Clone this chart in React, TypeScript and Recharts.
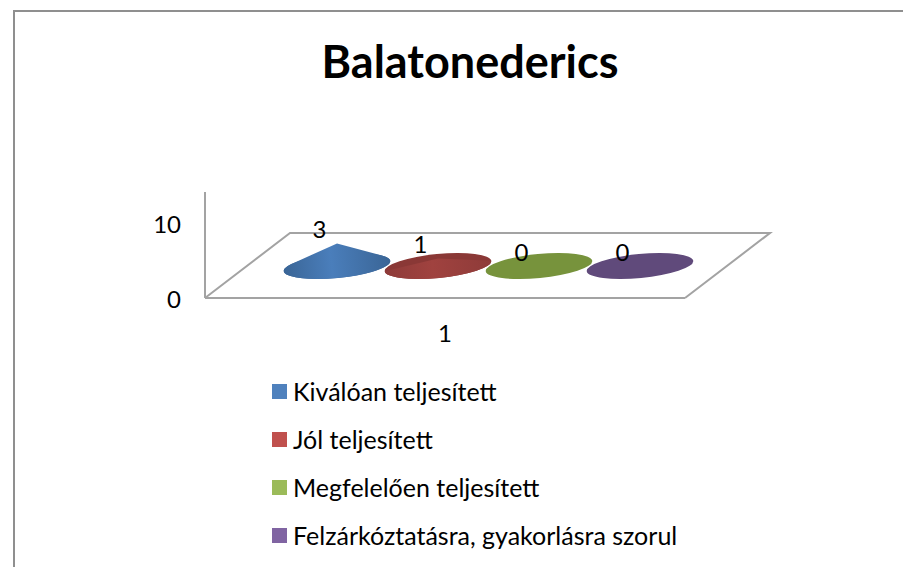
import React from "react";
import { BarChart, Bar, XAxis, YAxis, Legend, LabelList } from "recharts";

const categories = ["1"];
const seriesNames = [
  "Kiválóan teljesített",
  "Jól teljesített",
  "Megfelelően teljesített",
  "Felzárkóztatásra, gyakorlásra szorul",
];
const seriesValues = [[3], [1], [0], [0]];
const yTicks = [0, 10];
const yMax = 14.13;
const legendColors = ["#4f81bd", "#c0504d", "#9bbb59", "#8064a2"];
const baseColors = ["#3c6699", "#8a3836", "#77933c", "#604a7b"];
const midColors = ["#4a7ebb", "#a0423f", "#77933c", "#604a7b"];
const edgeColors = ["#3a6596", "#8e3b39", "#77933c", "#604a7b"];

const data = categories.map((c, i) => {
  const row: Record<string, string | number> = { category: c };
  seriesNames.forEach((n, s) => {
    row[n] = seriesValues[s][i];
  });
  return row;
});

const FONT = "Lato, Carlito, sans-serif";
const GRID = "#a3a3a3";
const DEPTH_X = 85;
const DEPTH_Y = 65;
const CONE_SHIFT = 1;
const PLOT = { left: 205, right: 685, top: 192, bottom: 298 };

function makeCone(index: number) {
  return function Cone(props: any) {
    const { x, y, width, height } = props;
    const cx = x + width / 2 + DEPTH_X / 2 + CONE_SHIFT;
    const cy = y + height - DEPTH_Y / 2 + 0.5;
    const rx = 53.5;
    const ry = 12;
    const theta = -5.5;
    const h = height;
    const t = (theta * Math.PI) / 180;
    const px = -h * Math.sin(t);
    const py = -h * Math.cos(t);
    const ux = px / rx;
    const uy = py / ry;
    const d = Math.hypot(ux, uy);
    const id = `cone-${index}`;
    let surface: string | null = null;
    if (h > 0) {
      if (d > 1) {
        const phi = Math.atan2(uy, ux);
        const a = Math.acos(1 / d);
        const t1 = [rx * Math.cos(phi + a), ry * Math.sin(phi + a)];
        const t2 = [rx * Math.cos(phi - a), ry * Math.sin(phi - a)];
        surface = `M${t1[0]} ${t1[1]} L${px} ${py} L${t2[0]} ${t2[1]} A${rx} ${ry} 0 1 0 ${t1[0]} ${t1[1]} Z`;
      } else {
        surface = `M${-rx} 0 L${px} ${py} L${rx} 0 A${rx} ${ry} 0 0 1 ${-rx} 0 Z`;
      }
    }
    return (
      <g transform={`translate(${cx} ${cy}) rotate(${theta})`}>
        <defs>
          <linearGradient id={id} x1="0" y1="0" x2="1" y2="0">
            <stop offset="0%" stopColor={edgeColors[index]} />
            <stop offset="45%" stopColor={midColors[index]} />
            <stop offset="100%" stopColor={edgeColors[index]} />
          </linearGradient>
        </defs>
        <ellipse cx={0} cy={0} rx={rx} ry={ry} fill={baseColors[index]} />
        {surface && <path d={surface} fill={`url(#${id})`} />}
      </g>
    );
  };
}

function coneLabel(props: any) {
  const { x, y, width, height, value } = props;
  const cx = x + width / 2 + DEPTH_X / 2 + CONE_SHIFT;
  const apexY = y + height - DEPTH_Y / 2 - height;
  return (
    <text
      x={cx - 17.6}
      y={apexY - 14}
      textAnchor="middle"
      dominantBaseline="central"
      fontFamily={FONT}
      fontSize={24}
      fill="#000"
    >
      {value}
    </text>
  );
}

function renderLegend(props: any) {
  const items = props.payload || [];
  return (
    <div style={{ fontFamily: FONT, fontSize: 25, color: "#000" }}>
      {items.map((item: any, i: number) => (
        <div
          key={item.value}
          style={{ display: "flex", alignItems: "center", height: 48, whiteSpace: "nowrap" }}
        >
          <span
            style={{
              display: "inline-block",
              width: 15,
              height: 15,
              background: legendColors[i],
              marginRight: 6,
            }}
          />
          <span>{item.value}</span>
        </div>
      ))}
    </div>
  );
}

export default function App() {
  return (
    <div style={{ position: "absolute", left: 0, top: 0, width: 903, height: 567, background: "#fff", overflow: "hidden" }}>
      <BarChart
        width={903}
        height={567}
        data={data}
        margin={{ top: PLOT.top, right: 903 - PLOT.right, bottom: 0, left: 0 }}
        barCategoryGap={38}
        barGap={0}
      >
        <path d="M14 567 L14 11 L903 11" fill="none" stroke="#8f8f8f" strokeWidth={2} />
        <text x={470} y={61} textAnchor="middle" dominantBaseline="central" fontFamily={FONT} fontWeight={700} fontSize={45} fill="#000">
          Balatonederics
        </text>
        <path
          d={`M${PLOT.left} ${PLOT.bottom} L${PLOT.left + DEPTH_X} ${PLOT.bottom - DEPTH_Y} L${PLOT.right + DEPTH_X} ${PLOT.bottom - DEPTH_Y} L${PLOT.right} ${PLOT.bottom}`}
          fill="none"
          stroke={GRID}
          strokeWidth={2}
        />
        <XAxis
          dataKey="category"
          height={567 - PLOT.bottom}
          axisLine={{ stroke: GRID, strokeWidth: 2 }}
          tickLine={false}
          tickMargin={21}
          tick={{ fontFamily: FONT, fontSize: 24, fill: "#000" }}
        />
        <YAxis
          width={PLOT.left}
          domain={[0, yMax]}
          ticks={yTicks}
          axisLine={{ stroke: GRID, strokeWidth: 2 }}
          tickLine={false}
          tickMargin={18}
          tick={{ fontFamily: FONT, fontSize: 24, fill: "#000", dy: 1 }}
        />
        {seriesNames.map((name, i) => (
          <Bar key={name} dataKey={name} name={name} fill={legendColors[i]} isAnimationActive={false} shape={makeCone(i)}>
            <LabelList dataKey={name} content={coneLabel} />
          </Bar>
        ))}
        <Legend
          layout="horizontal"
          verticalAlign="middle"
          align="center"
          itemSorter={null}
          content={renderLegend}
          wrapperStyle={{ position: "absolute", left: 272, top: 367, width: 500, height: 192 }}
        />
      </BarChart>
    </div>
  );
}
